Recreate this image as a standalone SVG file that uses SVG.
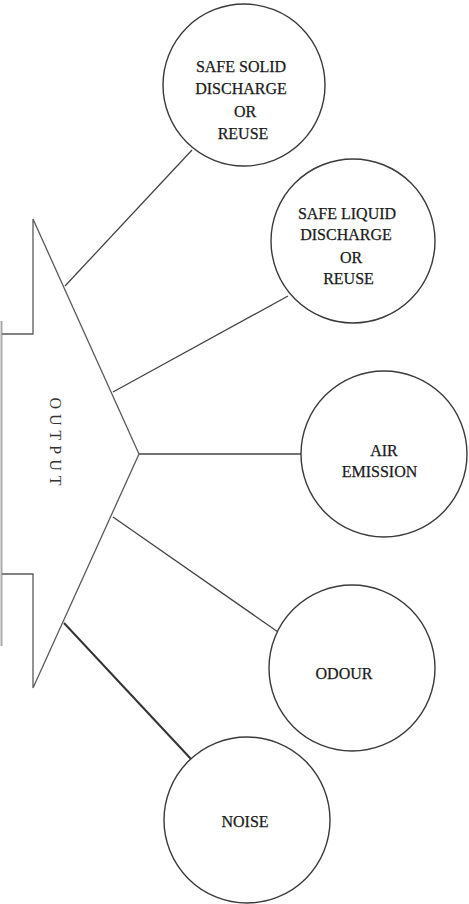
<svg xmlns="http://www.w3.org/2000/svg" width="469" height="904" viewBox="0 0 469 904">
<style>
.bg{fill:#ffffff}
.arrow{fill:none;stroke:#5a5a5a;stroke-width:1.3}
.edge{fill:none;stroke:#444;stroke-width:1.3}
.edge-dark{fill:none;stroke:#333;stroke-width:2}
.side{fill:none;stroke:#aaaaaa;stroke-width:2}
.node{fill:#ffffff;stroke:#3a3a3a;stroke-width:1.4}
.lbl{font-family:'Liberation Serif','Times New Roman',serif;font-size:16px;fill:#1a1a1a;stroke:#1a1a1a;stroke-width:0.25;text-anchor:middle}
.out{font-family:'Liberation Serif','Times New Roman',serif;font-size:16px;fill:#333;text-anchor:middle;letter-spacing:5px}
</style>
<rect class="bg" x="0" y="0" width="469" height="904"/>
<g id="output">
<line class="side" x1="1.5" y1="321" x2="1.5" y2="646"/>
<polyline class="arrow" points="2,334 33,334 33,219 139,454 33,688 33,574 2,574"/>
<text class="out" transform="translate(50,444) rotate(90)">OUTPUT</text>
</g>
<g id="connectors">
<line class="edge" x1="65" y1="286" x2="192" y2="150"/>
<line class="edge" x1="113" y1="392" x2="288" y2="296"/>
<line class="edge" x1="139" y1="454" x2="301" y2="454"/>
<line class="edge" x1="113" y1="517" x2="278" y2="632"/>
<line class="edge-dark" x1="64" y1="623" x2="191" y2="759"/>
</g>
<g id="solid">
<circle class="node" cx="244" cy="85" r="81"/>
<text class="lbl" x="241" y="72">SAFE SOLID</text>
<text class="lbl" x="241" y="94">DISCHARGE</text>
<text class="lbl" x="245" y="117">OR</text>
<text class="lbl" x="243" y="139">REUSE</text>
</g>
<g id="liquid">
<circle class="node" cx="353" cy="241" r="82"/>
<text class="lbl" x="347" y="219">SAFE LIQUID</text>
<text class="lbl" x="346" y="240">DISCHARGE</text>
<text class="lbl" x="351" y="263">OR</text>
<text class="lbl" x="348.5" y="284">REUSE</text>
</g>
<g id="air">
<circle class="node" cx="384" cy="454" r="83"/>
<text class="lbl" x="384" y="456">AIR</text>
<text class="lbl" x="379.5" y="477">EMISSION</text>
</g>
<g id="odour">
<circle class="node" cx="352" cy="668" r="83"/>
<text class="lbl" x="344" y="679">ODOUR</text>
</g>
<g id="noise">
<circle class="node" cx="247" cy="820" r="83"/>
<text class="lbl" x="245" y="827">NOISE</text>
</g>
</svg>
